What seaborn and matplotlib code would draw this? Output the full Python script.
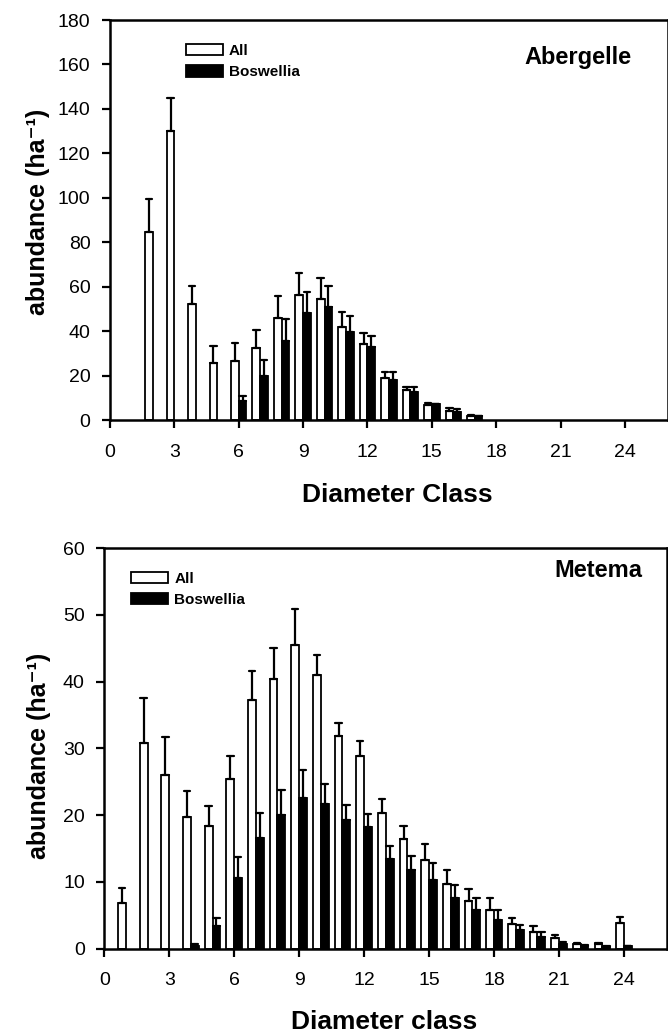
import numpy as np
import pandas as pd
import matplotlib
matplotlib.use("Agg")
import matplotlib.pyplot as plt
import seaborn as sns

# Abergelle (top panel)
aber_classes = list(range(2, 18))
aber_all = [84.4, 130.0, 52.0, 25.7, 26.5, 32.5, 45.7, 56.2, 54.3, 42.0, 34.0, 19.0, 13.4, 6.8, 4.1, 1.7]
aber_all_se = [15.0, 15.0, 8.5, 7.8, 8.2, 7.8, 10.1, 10.1, 9.7, 6.7, 5.0, 2.8, 1.3, 0.9, 1.2, 0.4]
aber_bos = [np.nan, np.nan, np.nan, np.nan, 8.7, 20.0, 35.5, 48.3, 50.7, 39.5, 33.0, 18.2, 12.8, 7.2, 3.6, 1.7]
aber_bos_se = [np.nan, np.nan, np.nan, np.nan, 2.0, 7.0, 9.8, 9.4, 9.7, 7.4, 4.7, 3.3, 1.9, 0.2, 1.2, 0.3]

# Metema (bottom panel)
met_classes = list(range(1, 25))
met_all = [6.8, 30.8, 26.0, 19.7, 18.3, 25.4, 37.2, 40.4, 45.5, 40.9, 31.9, 28.9,
           20.3, 16.4, 13.2, 9.7, 7.1, 5.8, 3.6, 2.4, 1.6, 0.6, 0.6, 3.8]
met_all_se = [2.2, 6.8, 5.7, 3.9, 3.0, 3.4, 4.3, 4.6, 5.3, 3.1, 1.9, 2.2,
              2.1, 2.0, 2.5, 2.1, 1.8, 1.7, 0.9, 0.9, 0.4, 0.2, 0.2, 0.9]
met_bos = [np.nan, np.nan, np.nan, 0.3, 3.3, 10.5, 16.5, 20.0, 22.6, 21.6, 19.2, 18.2,
           13.4, 11.8, 10.2, 7.6, 5.7, 4.3, 2.7, 1.7, 0.65, 0.4, 0.25, 0.3]
met_bos_se = [np.nan, np.nan, np.nan, 0.4, 1.2, 3.2, 3.8, 3.8, 4.1, 3.0, 2.3, 2.0,
              2.0, 2.0, 2.6, 1.9, 1.8, 1.4, 0.8, 0.7, 0.35, 0.1, 0.1, 0.1]

groups = ["All", "Boswellia"]


def long_table(classes, all_v, all_se, bos_v, bos_se):
    # two rows per bar: the mean and the mean + se, so that
    # estimator=min gives the bar and the (min, max) interval the upper error bar
    rows = []
    for g, vals, ses in [("All", all_v, all_se), ("Boswellia", bos_v, bos_se)]:
        for c, v, s in zip(classes, vals, ses):
            if np.isnan(v):
                continue
            rows.append({"cls": c, "group": g, "val": v})
            rows.append({"cls": c, "group": g, "val": v + s})
    return pd.DataFrame(rows)


sns.set_style("ticks")
plt.rcParams["font.family"] = ["Liberation Sans", "DejaVu Sans"]
plt.rcParams["axes.linewidth"] = 1.8
plt.rcParams["axes.edgecolor"] = "black"
plt.rcParams["axes.labelcolor"] = "black"
plt.rcParams["text.color"] = "black"
plt.rcParams["xtick.color"] = "black"
plt.rcParams["ytick.color"] = "black"
plt.rcParams["xtick.major.width"] = 1.6
plt.rcParams["ytick.major.width"] = 1.6
plt.rcParams["xtick.major.size"] = 6
plt.rcParams["ytick.major.size"] = 6

fig = plt.figure(figsize=(6.68, 10.33), dpi=100)
ax1 = fig.add_axes([0.1647, 0.5934, 0.835, 0.3872])
ax2 = fig.add_axes([0.156, 0.0818, 0.843, 0.3877])


def draw(ax, df, ymax, ystep, site, site_xy, xlabel, leg_x, ylab_y, ylab_x, xlab_x, xlab_y):
    sns.barplot(data=df, x="cls", y="val", hue="group", hue_order=groups,
                native_scale=True, width=0.72, estimator="min",
                errorbar=lambda v: (v.min(), v.max()), capsize=0.6,
                err_kws={"color": "black", "linewidth": 1.6},
                palette={"All": "white", "Boswellia": "black"},
                edgecolor="black", linewidth=1.3, ax=ax)
    ax.set_xlim(0, 26)
    ax.set_ylim(0, ymax)
    ax.set_xticks(range(0, 25, 3))
    ax.set_yticks(np.arange(0, ymax + 1, ystep))
    ax.tick_params(axis="x", labelsize=14, direction="out", pad=11)
    ax.tick_params(axis="y", labelsize=14, direction="out", pad=8)
    ax.set_xlabel(xlabel, fontsize=19, fontweight="bold")
    ax.set_ylabel("abundance (ha\u207b\u00b9)", fontsize=18, fontweight="bold")
    ax.yaxis.set_label_coords(ylab_x, ylab_y)
    ax.xaxis.set_label_coords(xlab_x, xlab_y)
    sns.move_legend(ax, "upper left", bbox_to_anchor=(leg_x, 0.975), frameon=False,
                    title=None, handlelength=2.4, handleheight=0.8,
                    labelspacing=0.45, handletextpad=0.4,
                    prop={"weight": "bold", "size": 11})
    ax.text(site_xy[0], site_xy[1], site, transform=ax.transAxes, ha="right", va="center",
            fontsize=17, fontweight="bold")


draw(ax1, long_table(aber_classes, aber_all, aber_all_se, aber_bos, aber_bos_se),
     180, 20, "Abergelle", (0.935, 0.907), "Diameter Class", 0.112, 0.52, -0.107, 0.515, -0.157)
draw(ax2, long_table(met_classes, met_all, met_all_se, met_bos, met_bos_se),
     60, 10, "Metema", (0.956, 0.945), "Diameter class", 0.024, 0.48, -0.095, 0.497, -0.154)

fig.savefig("out.png", dpi=100)
